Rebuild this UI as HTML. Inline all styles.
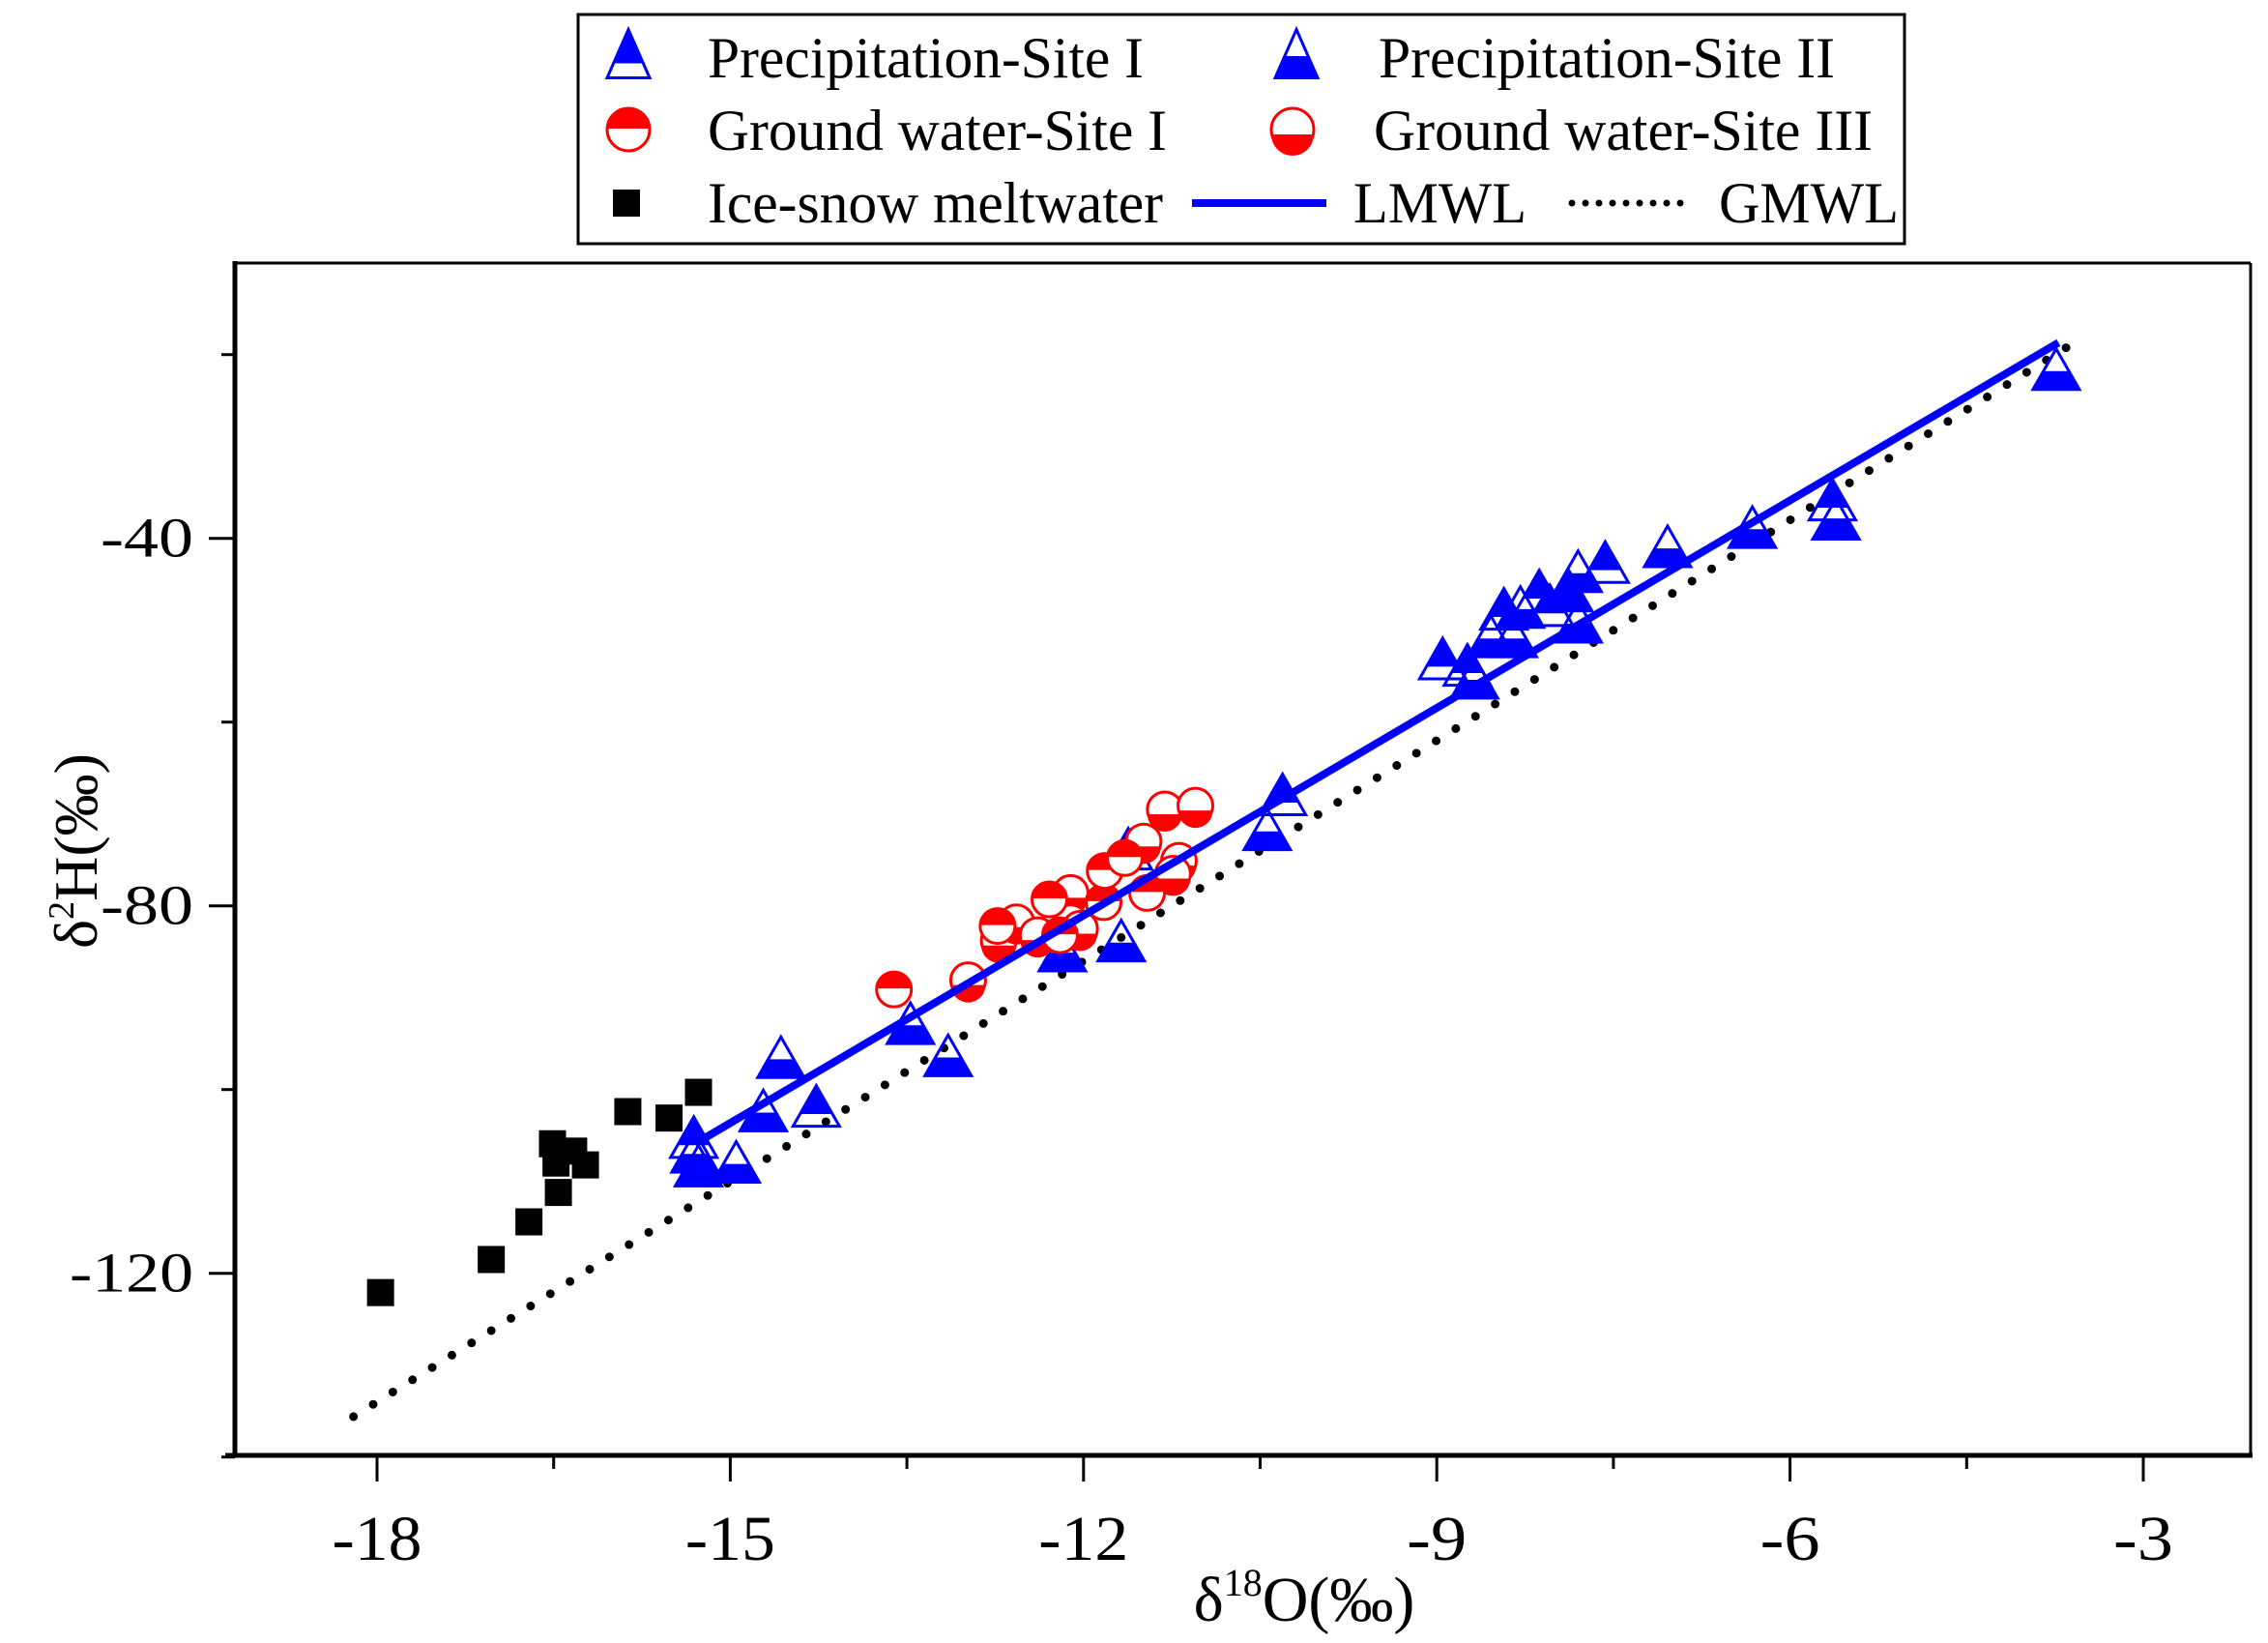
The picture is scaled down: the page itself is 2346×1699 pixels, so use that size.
<!DOCTYPE html>
<html><head><meta charset="utf-8"><style>
html,body{margin:0;padding:0;background:#fff;}
svg{display:block;font-family:"Liberation Serif",serif;}
</style></head><body>
<svg id="chart" width="2346" height="1699" viewBox="0 0 2346 1699" xmlns="http://www.w3.org/2000/svg">
<rect x="0" y="0" width="2346" height="1699" fill="#fff"/>
<g id="legend">
  <rect x="598" y="15" width="1372" height="237" fill="#fff" stroke="#000" stroke-width="3"/>
</g>
<g id="plot"></g>
</svg>
<script>
const iceX = [-17.97,-17.03,-16.71,-16.51,-16.46,-16.33,-16.23,-16.48,-15.87,-15.52,-15.27];
const iceY = [-122.1,-118.5,-114.4,-105.9,-111.2,-106.7,-108.2,-108.0,-102.4,-103.1,-100.3];
const p1X = [-15.31,-14.27,-11.62,-10.31,-8.95,-8.74,-8.43,-8.13,-8.04,-7.57,-5.64];
const p1Y = [-105.4,-102.0,-74.0,-68.1,-53.3,-54.0,-47.9,-45.9,-47.5,-42.8,-36.0];
const p2X = [-15.30,-15.27,-14.95,-14.72,-14.57,-13.47,-13.15,-12.18,-11.68,-10.44,-8.68,-8.29,-8.54,-8.35,-7.80,-7.88,-7.80,-7.04,-6.32,-5.61,-3.74];
const p2Y = [-107.0,-108.5,-108.1,-102.5,-96.7,-93.0,-96.5,-85.1,-84.0,-71.9,-55.4,-47.7,-50.9,-50.9,-43.8,-45.9,-49.3,-41.1,-39.0,-38.1,-21.8];
const g1X = [-13.61,-12.73,-12.20,-12.29,-11.83,-11.82,-11.65,-11.46];
const g1Y = [-89.1,-82.2,-83.2,-79.3,-79.6,-76.2,-74.8,-78.6];
const g3X = [-12.98,-12.72,-12.57,-12.39,-12.11,-12.11,-11.49,-11.31,-11.05,-11.19,-11.24,-12.03];
const g3Y = [-88.1,-83.8,-81.8,-83.2,-78.6,-81.8,-73.0,-69.5,-69.1,-75.1,-76.5,-82.5];
const lmwlX = [-15.3,-3.72];
const lmwlY = [-105.9,-18.7];
const gmwlX = [-18.2,-3.6];
const gmwlY = [-135.6,-18.8];
const xTicks = [-18,-15,-12,-9,-6,-3];
const xMinor = [-16.5,-13.5,-10.5,-7.5,-4.5];
const yTicks = [-40,-80,-120];
const yMinor = [-20,-60,-100,-140];

const L=243,R=2328,T=272,B=1505;
function sx(v){return 390+(v+18)*121.8;}
function sy(v){return 556.7+(-40-v)*9.5;}
const NS="http://www.w3.org/2000/svg";
const svg=document.getElementById('chart');
const plot=document.getElementById('plot');
const legend=document.getElementById('legend');
function mk(tag,attrs,parent){const e=document.createElementNS(NS,tag);for(const k in attrs)e.setAttribute(k,attrs[k]);(parent||plot).appendChild(e);return e;}

let e;
e=mk('line',{x1:L,y1:T,x2:R,y2:T,stroke:'#000','stroke-width':3});


e=mk('line',{x1:R,y1:T,x2:R,y2:B,stroke:'#000','stroke-width':3});


e=mk('line',{x1:L,y1:T-2,x2:L,y2:B+2,stroke:'#000','stroke-width':5});


e=mk('line',{x1:L-10,y1:B,x2:R+2,y2:B,stroke:'#000','stroke-width':5});



xTicks.forEach(v=>{
  e=mk('line',{x1:sx(v),y1:B,x2:sx(v),y2:B+27,stroke:'#000','stroke-width':3});
  
  
  const s=String(v);
  e=mk('text',{x:sx(v),y:B+108,'font-size':66,'text-anchor':'middle',textLength:s.length*31,lengthAdjust:'spacingAndGlyphs'});
  e.textContent=s;
  
  
});
xMinor.forEach(v=>{
  e=mk('line',{x1:sx(v),y1:B,x2:sx(v),y2:B+14,stroke:'#000','stroke-width':3});
  
  
});
yTicks.forEach(v=>{
  e=mk('line',{x1:L-27,y1:sy(v),x2:L,y2:sy(v),stroke:'#000','stroke-width':3});
  
  
  const s=String(v);
  e=mk('text',{x:200,y:sy(v)+19,'font-size':58,'text-anchor':'end',textLength:s.length*32,lengthAdjust:'spacingAndGlyphs'});
  e.textContent=s;
  
  
});
yMinor.forEach(v=>{
  e=mk('line',{x1:L-14,y1:sy(v),x2:L,y2:sy(v),stroke:'#000','stroke-width':3});
  
  
});

e=mk('text',{x:1349,y:1676,'font-size':66,'text-anchor':'middle'});
e.innerHTML='δ<tspan font-size="40" dy="-26">18</tspan><tspan dy="26">O(‰)</tspan>';


e=mk('text',{x:0,y:0,'font-size':64,'text-anchor':'middle',transform:'translate(100,880) rotate(-90)'});
e.innerHTML='δ<tspan font-size="38" dy="-24">2</tspan><tspan dy="24">H(‰)</tspan>';



e=mk('line',{x1:sx(gmwlX[0]),y1:sy(gmwlY[0]),x2:sx(gmwlX[1]),y2:sy(gmwlY[1]),stroke:'#000','stroke-width':9,'stroke-linecap':'round','stroke-dasharray':'0 24'});



function square(x,y,parent){return mk('rect',{x:x-14,y:y-14,width:28,height:28,fill:'#000'},parent);}
function tri(x,y,w,h,type,parent){
  const g=mk('g',{},parent);
  const top=y-h*0.55,bot=y+h*0.45;
  const split = type===1 ? top+h*0.7 : top+h*0.55;
  const fr=(yy)=>(yy-top)/h*(w/2);
  if(type===1){
    mk('polygon',{points:`${x},${top} ${x-fr(split)},${split} ${x+fr(split)},${split}`,fill:'#0000ff'},g);
  } else {
    mk('polygon',{points:`${x-fr(split)},${split} ${x+fr(split)},${split} ${x+w/2},${bot} ${x-w/2},${bot}`,fill:'#0000ff'},g);
  }
  mk('polygon',{points:`${x},${top} ${x+w/2},${bot} ${x-w/2},${bot}`,fill:'none',stroke:'#0000ff','stroke-width':3},g);
  return g;
}
function circ(x,y,r,type,parent){
  const g=mk('g',{},parent);
  mk('circle',{cx:x,cy:y,r:r,fill:'#fff',stroke:'#ff0000','stroke-width':3},g);
  const s=y+2;
  if(type===1){
    mk('path',{d:`M${x-r},${s-3} A${r},${r} 0 0 1 ${x+r},${s-3} Z`,fill:'#ff0000'},g);
  } else {
    mk('path',{d:`M${x-r},${s+3} A${r},${r} 0 0 0 ${x+r},${s+3} Z`,fill:'#ff0000'},g);
  }
  return g;
}
iceX.forEach((v,i)=>{
  e=square(sx(v),sy(iceY[i]));
  
  
});
p2X.forEach((v,i)=>{
  e=tri(sx(v),sy(p2Y[i]),48,42,2);
  
  
});
p1X.forEach((v,i)=>{
  e=tri(sx(v),sy(p1Y[i]),48,42,1);
  
  
});
g3X.forEach((v,i)=>{
  e=circ(sx(v),sy(g3Y[i]),18,3);
  
  
});
g1X.forEach((v,i)=>{
  e=circ(sx(v),sy(g1Y[i]),18,1);
  
  
});
e=mk('line',{x1:sx(lmwlX[0]),y1:sy(lmwlY[0]),x2:sx(lmwlX[1]),y2:sy(lmwlY[1]),stroke:'#0000ff','stroke-width':8});



function ltext(x,y,s,w,name){
  const t=mk('text',{x:x,y:y,'font-size':60,textLength:w,lengthAdjust:'spacingAndGlyphs'},legend);
  t.textContent=s;
  
  
}
e=tri(650,58,44,50,1,legend);


ltext(732,80,'Precipitation-Site I',451,'legend-precip-site1-label');
e=tri(1341,58,44,50,2,legend);


ltext(1426,80,'Precipitation-Site II',472,'legend-precip-site2-label');
e=circ(650,134,22,1,legend);


ltext(732,155,'Ground water-Site I',475,'legend-groundwater-site1-label');
e=circ(1337,134,22,3,legend);


ltext(1421,155,'Ground water-Site III',516,'legend-groundwater-site3-label');
e=square(648,210,legend);


ltext(732,230,'Ice-snow meltwater',471,'legend-ice-snow-label');
e=mk('line',{x1:1233,y1:210,x2:1372,y2:210,stroke:'#0000ff','stroke-width':8},legend);


ltext(1400,230,'LMWL',179,'legend-lmwl-label');
e=mk('line',{x1:1626,y1:210,x2:1752,y2:210,stroke:'#000','stroke-width':7,'stroke-linecap':'round','stroke-dasharray':'0 14'},legend);


ltext(1778,230,'GMWL',186,'legend-gmwl-label');
</script>
</body></html>
